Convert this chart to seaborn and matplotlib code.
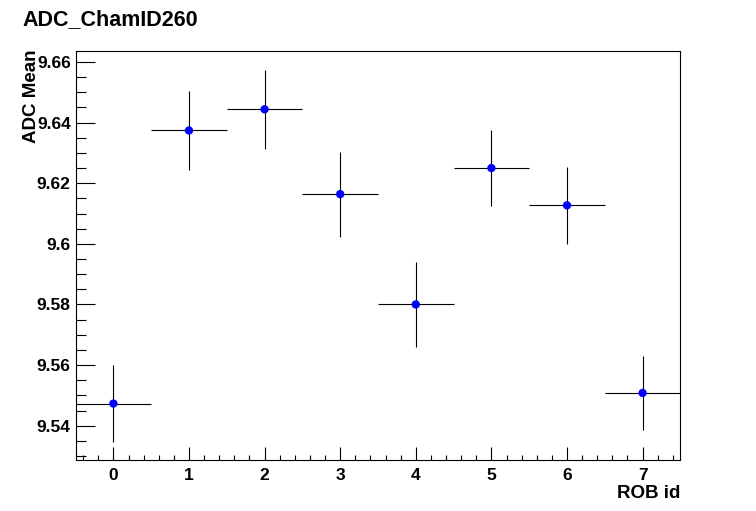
import matplotlib
matplotlib.use("Agg")
import matplotlib.pyplot as plt
from matplotlib.ticker import MultipleLocator, FuncFormatter
import seaborn as sns
import pandas as pd

rob_id = [0, 1, 2, 3, 4, 5, 6, 7]
adc_mean = [9.5473, 9.6374, 9.6444, 9.6164, 9.5800, 9.6250, 9.6127, 9.5508]
adc_err = [0.0126, 0.0131, 0.0130, 0.0140, 0.0140, 0.0124, 0.0126, 0.0122]
x_err = [0.5] * 8

df = pd.DataFrame({"ROB id": rob_id, "ADC Mean": adc_mean})

sns.set_style("white")
plt.rcParams['font.family'] = ['Liberation Sans', 'DejaVu Sans']
plt.rcParams['font.weight'] = 'bold'
plt.rcParams['text.color'] = 'black'
plt.rcParams['axes.labelcolor'] = 'black'

fig = plt.figure(figsize=(7.56, 5.11), dpi=100)
ax = fig.add_axes([0.1, 0.1, 0.8, 0.8])

ax.errorbar(rob_id, adc_mean, yerr=adc_err, xerr=x_err, fmt='none',
            ecolor='black', elinewidth=0.8, capsize=0, zorder=2)
sns.scatterplot(data=df, x="ROB id", y="ADC Mean", ax=ax, color='#0000ff',
                s=36, edgecolor='none', zorder=3, legend=False)

ax.set_xlim(-0.5, 7.5)
ax.set_ylim(9.5287, 9.6636)

ax.xaxis.set_major_locator(MultipleLocator(1))
ax.xaxis.set_minor_locator(MultipleLocator(0.2))
ax.yaxis.set_major_locator(MultipleLocator(0.02))
ax.yaxis.set_minor_locator(MultipleLocator(0.005))

def yfmt(v, pos):
    s = f"{v:.2f}"
    if s.endswith("0"):
        s = s[:-1]
    return s
ax.yaxis.set_major_formatter(FuncFormatter(yfmt))

ax.tick_params(axis='both', which='both', direction='in', colors='black',
               labelcolor='black', labelsize=12.5, bottom=True, left=True,
               top=False, right=False, width=0.8)
ax.tick_params(axis='y', which='major', length=13.4, pad=3.5)
ax.tick_params(axis='y', which='minor', length=7)
ax.tick_params(axis='x', which='major', length=9.1, pad=5.5)
ax.tick_params(axis='x', which='minor', length=3.8)
for lab in ax.get_xticklabels() + ax.get_yticklabels():
    lab.set_fontweight('bold')

for sp in ax.spines.values():
    sp.set_color('black')
    sp.set_linewidth(0.8)

ax.set_xlabel("ROB id", fontsize=13.5, fontweight='bold', loc='right',
              color='black')
ax.xaxis.set_label_coords(1.0, -0.061)
ax.set_ylabel("ADC Mean", fontsize=13.5, fontweight='bold', loc='top',
              color='black')
ax.yaxis.set_label_coords(-0.059, 1.004)

fig.text(22 / 756, 1 - 25 / 511, "ADC_ChamID260", fontsize=15.5,
         fontweight='bold', ha='left', va='baseline', color='black')

fig.savefig("out.png", dpi=100)
